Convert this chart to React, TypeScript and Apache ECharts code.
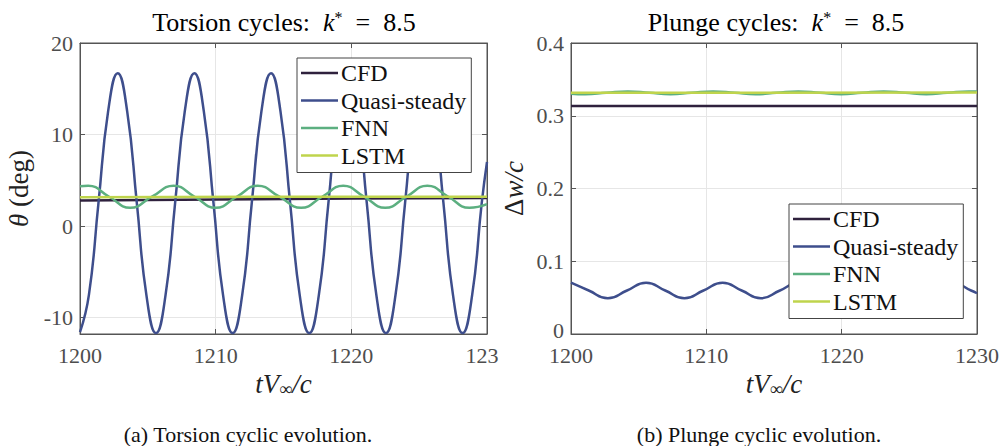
import React, { useEffect, useRef } from "react";
import * as echarts from "echarts";

// ---- Data ----
// Torsion (theta, deg)
const TOR_CFD_T = [1200, 1210, 1220, 1230];
const TOR_CFD = [2.8, 2.9, 3.0, 3.05];

const TOR_QS_T = [
  1200.0, 1200.66, 1201.36, 1202.07, 1202.78, 1203.48, 1204.19, 1204.89,
  1205.6, 1206.31, 1207.01, 1207.72, 1208.43, 1209.13, 1209.84, 1210.54,
  1211.25, 1211.96, 1212.66, 1213.37, 1214.08, 1214.78, 1215.49, 1216.19,
  1216.9, 1217.61, 1218.31, 1219.02, 1219.73, 1220.43, 1221.14, 1221.84,
  1222.55, 1223.26, 1223.96, 1224.67, 1225.38, 1226.08, 1226.79, 1227.49,
  1228.2, 1228.91, 1229.61, 1230.0,
];
const TOR_QS = [
  -11.6, -7.5, 2.5, 12.5, 16.7, 12.5, 2.5, -7.5,
  -11.7, -7.5, 2.5, 12.5, 16.7, 12.5, 2.5, -7.5,
  -11.7, -7.5, 2.5, 12.5, 16.7, 12.5, 2.5, -7.5,
  -11.7, -7.5, 2.5, 12.5, 16.7, 12.5, 2.5, -7.5,
  -11.7, -7.5, 2.5, 12.5, 16.7, 12.5, 2.5, -7.5,
  -11.7, -7.5, 2.5, 7.0,
];

const TOR_FNN_T = [
  1200.0, 1200.6, 1202.15, 1203.7, 1205.3, 1206.9, 1208.45, 1210.0, 1211.55,
  1213.1, 1214.7, 1216.3, 1217.85, 1219.4, 1220.95, 1222.5, 1224.05, 1225.6,
  1227.15, 1228.7, 1230.0,
];
const TOR_FNN = [
  4.35, 4.4, 3.2, 2.0, 3.2, 4.4, 3.2, 2.0, 3.2,
  4.4, 3.2, 2.0, 3.2, 4.4, 3.2, 2.0, 3.2, 4.4,
  3.2, 2.0, 2.4,
];

const TOR_LSTM_T = [1200, 1215, 1230];
const TOR_LSTM = [3.15, 3.2, 3.2];

// Plunge (delta w / c)
const PL_CFD_T = [1200, 1230];
const PL_CFD = [0.3135, 0.3135];

const PL_QS_T = [
  1200.0, 1201.31, 1202.72, 1204.14, 1205.55, 1206.96, 1208.38, 1209.79,
  1211.2, 1212.61, 1214.03, 1215.44, 1216.85, 1218.26, 1219.68, 1221.09,
  1222.5, 1223.91, 1225.33, 1226.74, 1228.15, 1229.56, 1230.0,
];
const PL_QS = [
  0.0705, 0.0598, 0.049, 0.0598, 0.0705, 0.0598, 0.049, 0.0598,
  0.0705, 0.0598, 0.049, 0.0598, 0.0705, 0.0598, 0.049, 0.0598,
  0.0705, 0.0598, 0.049, 0.0598, 0.0705, 0.0598, 0.056,
];

const PL_FNN_T = [
  1200.0, 1201.05, 1202.6, 1204.2, 1205.8, 1207.35, 1208.9, 1210.5, 1212.1,
  1213.65, 1215.2, 1216.8, 1218.4, 1219.95, 1221.5, 1223.1, 1224.7, 1226.25,
  1227.8, 1229.4, 1230.0,
];
const PL_FNN = [
  0.3302, 0.3295, 0.3315, 0.3335, 0.3315, 0.3295, 0.3315, 0.3335, 0.3315,
  0.3295, 0.3315, 0.3335, 0.3315, 0.3295, 0.3315, 0.3335, 0.3315, 0.3295,
  0.3315, 0.3335, 0.3332,
];

const PL_LSTM_T = [1200, 1230];
const PL_LSTM = [0.3315, 0.3318];

const NAMES = ["CFD", "Quasi-steady", "FNN", "LSTM"];
const COLORS = ["#2f213d", "#3e4e8c", "#5caf80", "#bfd44c"];

const FONT = "Liberation Serif, 'Times New Roman', serif";
const AX = "#555555";
const LBL = "#4d4d4d";

const pairs = (t: number[], v: number[]) => t.map((x, i) => [x, v[i]]);

function App() {
  const ref = useRef<HTMLDivElement>(null);
  useEffect(() => {
    if (!ref.current) return;
    const chart = echarts.init(ref.current, null, { renderer: "svg" });

    const mathRich = {
      i: { fontStyle: "italic", fontSize: 27, fontFamily: FONT, color: "#222" },
      n: { fontSize: 27, fontFamily: FONT, color: "#222" },
      sub: { fontSize: 18, fontFamily: FONT, color: "#222", verticalAlign: "bottom", padding: [9, 0, 0, 0] },
    };

    const tickStyle = { show: true, inside: true, length: 5, lineStyle: { color: AX } };
    const lineStyle = { show: true, onZero: false, lineStyle: { color: AX, width: 1 } };

    const xMain = (gi: number, left: boolean) => ({
      type: "value",
      gridIndex: gi,
      min: 1200,
      max: 1230,
      interval: 10,
      name: "{i|tV}{sub|∞}{i|/c}",
      nameLocation: "middle",
      nameGap: 30,
      nameTextStyle: { rich: mathRich, fontFamily: FONT },
      axisLine: lineStyle,
      axisTick: tickStyle,
      splitLine: { show: true, lineStyle: { color: "#e6e6e6", width: 1 } },
      axisLabel: {
        margin: 12,
        fontSize: 22,
        lineHeight: 18,
        fontFamily: FONT,
        color: LBL,
        formatter: left
          ? (v: number) => (v === 1230 ? "{c|123}" : String(v))
          : (v: number) => String(v),
        rich: { c: { fontSize: 22, lineHeight: 18, fontFamily: FONT, color: LBL, padding: [0, 10, 0, 0] } },
      },
    });
    const xTop = (gi: number) => ({
      type: "value",
      gridIndex: gi,
      position: "top",
      min: 1200,
      max: 1230,
      interval: 10,
      axisLine: lineStyle,
      axisTick: tickStyle,
      axisLabel: { show: false },
      splitLine: { show: false },
    });

    const yLeft = {
      type: "value",
      gridIndex: 0,
      min: -11.8,
      max: 20,
      splitNumber: 3,
      name: "{i|θ}{n| (deg)}",
      nameLocation: "middle",
      nameGap: 48,
      nameTextStyle: { rich: mathRich, fontFamily: FONT },
      axisLine: lineStyle,
      axisTick: tickStyle,
      splitLine: { show: true, lineStyle: { color: "#e6e6e6", width: 1 } },
      axisLabel: {
        margin: 7,
        fontSize: 22,
        lineHeight: 18,
        fontFamily: FONT,
        color: LBL,
        formatter: (v: number) => (Math.abs(v % 10) < 1e-9 ? String(v) : ""),
      },
    };
    const yLeftR = {
      type: "value",
      gridIndex: 0,
      position: "right",
      min: -11.8,
      max: 20,
      splitNumber: 3,
      axisLine: lineStyle,
      axisTick: tickStyle,
      axisLabel: { show: false },
      splitLine: { show: false },
    };
    const yRight = {
      type: "value",
      gridIndex: 1,
      min: 0,
      max: 0.4,
      interval: 0.1,
      name: "{n|Δ}{i|w/c}",
      nameLocation: "middle",
      nameGap: 44,
      nameTextStyle: { rich: mathRich, fontFamily: FONT },
      axisLine: lineStyle,
      axisTick: tickStyle,
      splitLine: { show: true, lineStyle: { color: "#e6e6e6", width: 1 } },
      axisLabel: {
        margin: 7,
        fontSize: 22,
        lineHeight: 18,
        fontFamily: FONT,
        color: LBL,
        formatter: (v: number) => (v === 0 ? "{z|0}" : String(v)),
        rich: { z: { fontSize: 22, lineHeight: 18, fontFamily: FONT, color: LBL, padding: [0, 0, 7, 0] } },
      },
    };
    const yRightR = {
      type: "value",
      gridIndex: 1,
      position: "right",
      min: 0,
      max: 0.4,
      interval: 0.1,
      axisLine: lineStyle,
      axisTick: tickStyle,
      axisLabel: { show: false },
      splitLine: { show: false },
    };

    const mk = (name: string, idx: number, gi: number, data: number[][], smooth: boolean) => ({
      type: "line",
      name,
      xAxisIndex: gi === 0 ? 0 : 2,
      yAxisIndex: gi === 0 ? 0 : 2,
      data,
      showSymbol: false,
      symbol: "none",
      smooth: smooth ? 0.5 : false,
      lineStyle: { color: COLORS[idx], width: 2.5 },
      itemStyle: { color: COLORS[idx] },
      z: 2 + idx,
    });

    const legend = (left: number, top: number) => ({
      left,
      top,
      orient: "vertical",
      data: NAMES,
      icon: "rect",
      itemWidth: 37,
      itemHeight: 2.5,
      itemGap: 3.5,
      padding: [3, 5, 5, 4],
      backgroundColor: "#ffffff",
      borderColor: "#444",
      borderWidth: 1,
      selectedMode: false,
      textStyle: { fontSize: 24, fontFamily: FONT, color: "#111", padding: [0, 0, 0, -2] },
    });

    const titleRich = {
      n: { fontSize: 26, fontFamily: FONT, color: "#111" },
      i: { fontSize: 26, fontFamily: FONT, fontStyle: "italic", color: "#111" },
      s: { fontSize: 16, fontFamily: FONT, color: "#111", verticalAlign: "top" },
    };

    chart.setOption({
      animation: false,
      backgroundColor: "#ffffff",
      textStyle: { fontFamily: FONT },
      grid: [
        { left: 80, right: 1002 - 487, top: 43, bottom: 446 - 334, show: true, backgroundColor: "#fff", borderColor: AX, borderWidth: 1 },
        { left: 571, right: 1002 - 979, top: 43, bottom: 446 - 334, show: true, backgroundColor: "#fff", borderColor: AX, borderWidth: 1 },
      ],
      xAxis: [xMain(0, true), xTop(0), xMain(1, false), xTop(1)],
      yAxis: [yLeft, yLeftR, yRight, yRightR],
      legend: [legend(297, 58), legend(789, 204)],
      series: [
        mk("CFD", 0, 0, pairs(TOR_CFD_T, TOR_CFD), false),
        mk("Quasi-steady", 1, 0, pairs(TOR_QS_T, TOR_QS), true),
        mk("FNN", 2, 0, pairs(TOR_FNN_T, TOR_FNN), true),
        mk("LSTM", 3, 0, pairs(TOR_LSTM_T, TOR_LSTM), false),
        mk("CFD", 0, 1, pairs(PL_CFD_T, PL_CFD), false),
        mk("Quasi-steady", 1, 1, pairs(PL_QS_T, PL_QS), true),
        mk("FNN", 2, 1, pairs(PL_FNN_T, PL_FNN), true),
        mk("LSTM", 3, 1, pairs(PL_LSTM_T, PL_LSTM), false),
      ],
      graphic: [
        {
          type: "text",
          x: 284,
          y: 22,
          style: {
            text: "{n|Torsion cycles:  }{i|k}{s|*}{n|  =  8.5}",
            rich: titleRich,
            align: "center",
            verticalAlign: "middle",
          },
        },
        {
          type: "text",
          x: 776,
          y: 22,
          style: {
            text: "{n|Plunge cycles:  }{i|k}{s|*}{n|  =  8.5}",
            rich: titleRich,
            align: "center",
            verticalAlign: "middle",
          },
        },
        {
          type: "text",
          x: 248,
          y: 434,
          style: {
            text: "(a) Torsion cyclic evolution.",
            fontSize: 22,
            fontFamily: FONT,
            fill: "#111",
            align: "center",
            verticalAlign: "middle",
          },
        },
        {
          type: "text",
          x: 759,
          y: 434,
          style: {
            text: "(b) Plunge cyclic evolution.",
            fontSize: 22,
            fontFamily: FONT,
            fill: "#111",
            align: "center",
            verticalAlign: "middle",
          },
        },
      ],
    } as any);

    return () => chart.dispose();
  }, []);

  return (
    <div
      ref={ref}
      style={{ position: "fixed", left: 0, top: 0, width: 1002, height: 446, background: "#fff" }}
    />
  );
}

export default App;
